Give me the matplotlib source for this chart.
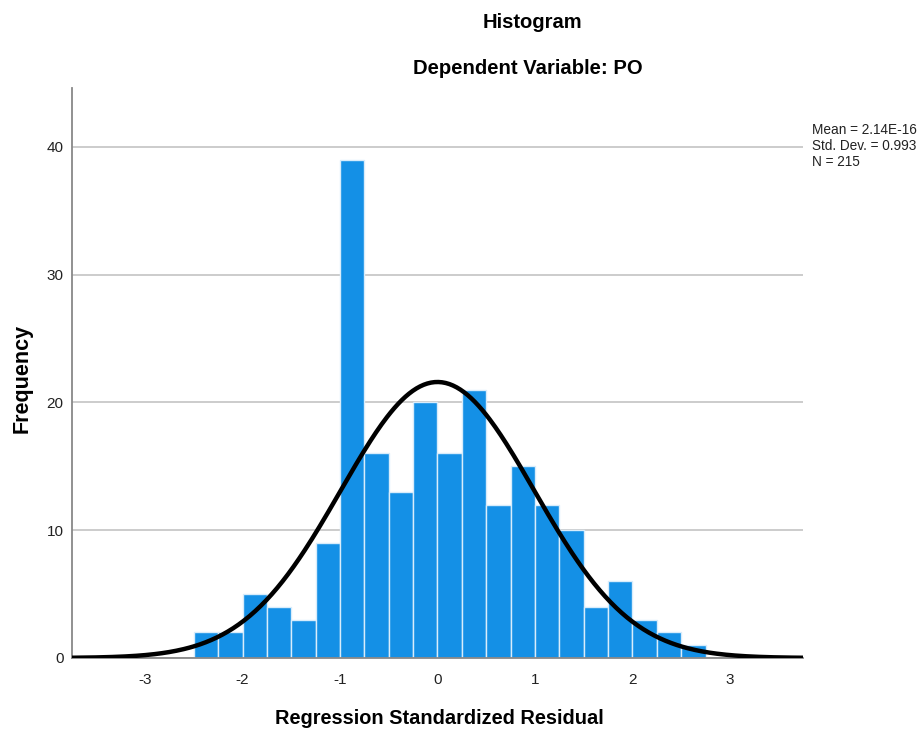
import matplotlib
matplotlib.use("Agg")
import matplotlib.pyplot as plt
import numpy as np

plt.rcParams["font.family"] = ["Liberation Sans", "DejaVu Sans"]
plt.rcParams["axes.unicode_minus"] = False

# histogram bins (width 0.25, starting at -2.5) and counts
bin_start = -2.5
bin_width = 0.25
counts = [2, 2, 5, 4, 3, 9, 39, 16, 13, 20, 16, 21, 12, 15, 12, 10, 4, 6, 3, 2, 1]
mean = 2.14e-16
std = 0.993
n = 215
x_ticks = [-3, -2, -1, 0, 1, 2, 3]
y_ticks = [0, 10, 20, 30, 40]

edges = bin_start + bin_width * np.arange(len(counts) + 1)

fig = plt.figure(figsize=(9.18, 7.35), dpi=100)
ax = fig.add_axes([0.0784, 0.1048, 0.7963, 0.7755])

ax.hist(edges[:-1], bins=edges, weights=counts, color="#1490E6",
        edgecolor="#d8ecfb", linewidth=1.0, zorder=2)

# fitted normal curve
xs = np.linspace(-3.75, 3.75, 400)
pdf = np.exp(-0.5 * ((xs - mean) / std) ** 2) / (std * np.sqrt(2 * np.pi))
ax.plot(xs, pdf * n * bin_width, color="black", linewidth=3.2, zorder=3)

ax.set_xlim(-3.75, 3.75)
ax.set_ylim(0, 44.6)
ax.set_xticks(x_ticks)
ax.set_yticks(y_ticks)
ax.tick_params(length=0, labelsize=11, colors="#222222")
ax.tick_params(axis="x", pad=11)
ax.tick_params(axis="y", pad=6)
ax.yaxis.grid(True, color="#c8c8c8", linewidth=1.3, zorder=0)
ax.set_axisbelow(True)
for s in ["top", "right"]:
    ax.spines[s].set_visible(False)
for s in ["left", "bottom"]:
    ax.spines[s].set_color("#888888")
    ax.spines[s].set_linewidth(1.3)

fig.text(439 / 918, 1 - 719 / 735, "Regression Standardized Residual",
         ha="center", va="center", fontsize=14.4, fontweight="bold")
fig.text(22 / 918, 1 - 378 / 735, "Frequency", rotation=90, ha="center",
         va="center", fontsize=15.5, fontweight="bold")

fig.text(532 / 918, 1 - 22 / 735, "Histogram", ha="center", va="center",
         fontsize=14.5, fontweight="bold")
fig.text(528 / 918, 1 - 69 / 735, "Dependent Variable: PO", ha="center",
         va="center", fontsize=14.6, fontweight="bold")

fig.text(812 / 918, 1 - 146 / 735,
         "Mean = 2.14E-16\nStd. Dev. = 0.993\nN = 215",
         ha="left", va="center", fontsize=9.8, linespacing=1.15, color="#222222")

fig.savefig("out.png", dpi=100)
